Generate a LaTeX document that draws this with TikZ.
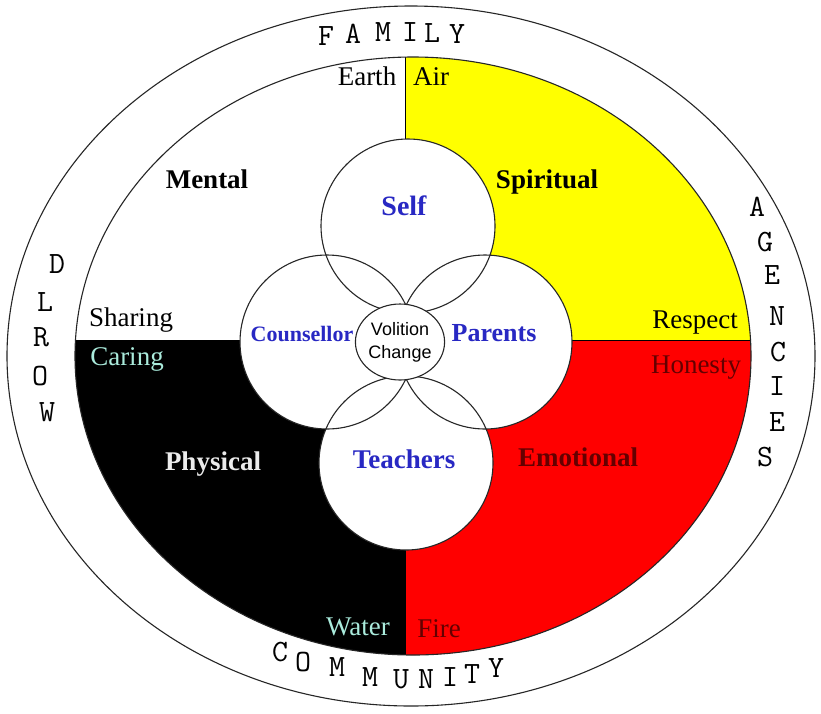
\documentclass[tikz,border=0pt]{standalone}
\usepackage{fontspec}
\setmainfont{Liberation Serif}
\newfontfamily\volfont{Liberation Sans}
\usepackage{xcolor}
\usetikzlibrary{shapes.geometric, positioning}
\definecolor{wheelyellow}{RGB}{255,255,0}
\definecolor{wheelred}{RGB}{255,0,0}
\definecolor{helperblue}{RGB}{40,40,195}
\definecolor{palecyan}{RGB}{170,235,220}
\definecolor{darkred}{RGB}{100,0,0}

\begin{document}
\begin{tikzpicture}[
    x=1pt, y=-1pt,
    rim/.style={line width=1.1pt, draw=black!85},
    ringletter/.style={font=\ttfamily\fontsize{31}{31}\selectfont, inner sep=0pt, text height=0.6em, text depth=0pt},
    word/.style={font=\fontsize{27}{30}\selectfont, inner sep=0pt, text height=0.66em, text depth=0pt},
    aspect/.style={font=\bfseries\fontsize{27}{30}\selectfont, inner sep=0pt, text height=0.66em, text depth=0pt},
    helper/.style={circle, fill=white, minimum size=174pt, inner sep=0pt},
    helpertext/.style={aspect, text=helperblue}
]
    \useasboundingbox (0,0) rectangle (821,713);
    \fill[white] (0,0) rectangle (821,713);

    \draw[rim] (411,356) ellipse [x radius=404pt, y radius=350pt];

    \begin{scope}
        \clip (413,356) ellipse [x radius=338pt, y radius=299pt];
        \fill[wheelyellow] (405,0) rectangle (821,340);
        \fill[wheelred] (405,340) rectangle (821,713);
        \fill[black] (0,340) rectangle (405,713);
        \draw[line width=1pt] (405,0) -- (405,713);
        \draw[line width=1pt] (0,340) -- (821,340);
    \end{scope}
    \draw[rim] (413,356) ellipse [x radius=338pt, y radius=299pt];

    \node (self) [helper] at (408,226) {};
    \node (counsellor) [helper] at (327,342) {};
    \node (parents) [helper] at (485,342) {};
    \node (teachers) [helper] at (406,463) {};
    \draw[rim] (self.center) circle [radius=87pt];
    \draw[rim] (counsellor.center) circle [radius=87pt];
    \draw[rim] (parents.center) circle [radius=87pt];
    \draw[rim] (teachers.center) circle [radius=87pt];

    \node (volition) [ellipse, rim, fill=white, minimum width=84pt, minimum height=76pt, inner sep=0pt, align=center, font=\volfont\fontsize{18}{23}\selectfont] at (400,342) {Volition\\Change};

    \node (selflbl) [helpertext, font=\bfseries\fontsize{28}{30}\selectfont] at (404,212) {Self};
    \node (counsellorlbl) [helpertext, font=\bfseries\fontsize{22}{26}\selectfont] at (302,338) {Counsellor};
    \node (parentslbl) [helpertext, font=\bfseries\fontsize{26}{30}\selectfont] at (494,338) {Parents};
    \node (teacherslbl) [helpertext] at (404,465) {Teachers};

    \node (mental) [aspect] at (207,185) {Mental};
    \node (spiritual) [aspect] at (547,185) {Spiritual};
    \node (physical) [aspect, text=white!92!black] at (213,467) {Physical};
    \node (emotional) [aspect, text=darkred] at (578,463) {Emotional};

    \node (earth) [word] at (367,82) {Earth};
    \node (air) [word] at (431,82) {Air};
    \node (sharing) [word] at (131,323) {Sharing};
    \node (caring) [word, text=palecyan] at (127,362) {Caring};
    \node (respect) [word] at (695,325) {Respect};
    \node (honesty) [word, text=darkred] at (696,370) {Honesty};
    \node (water) [word, text=palecyan] at (358,632) {Water};
    \node (fire) [word, text=darkred] at (439,634) {Fire};

    \node (fam1) [ringletter] at (326,42) {F};
    \node (fam2) [ringletter] at (353,40) {A};
    \node (fam3) [ringletter] at (383,38) {M};
    \node (fam4) [ringletter] at (410,38) {I};
    \node (fam5) [ringletter] at (432,39) {L};
    \node (fam6) [ringletter] at (457,40) {Y};

    \node (wor1) [ringletter] at (57,270) {D};
    \node (wor2) [ringletter] at (45,308) {L};
    \node (wor3) [ringletter] at (41,343) {R};
    \node (wor4) [ringletter] at (40,382) {O};
    \node (wor5) [ringletter] at (47,418) {W};

    \node (age1) [ringletter] at (757,213) {A};
    \node (age2) [ringletter] at (765,248) {G};
    \node (age3) [ringletter] at (772,281) {E};
    \node (age4) [ringletter] at (777,322) {N};
    \node (age5) [ringletter] at (778,358) {C};
    \node (age6) [ringletter] at (777,392) {I};
    \node (age7) [ringletter] at (777,428) {E};
    \node (age8) [ringletter] at (765,463) {S};

    \node (com1) [ringletter] at (280,658) {C};
    \node (com2) [ringletter] at (303,668) {O};
    \node (com3) [ringletter] at (337,673) {M};
    \node (com4) [ringletter] at (370,683) {M};
    \node (com5) [ringletter] at (401,685) {U};
    \node (com6) [ringletter] at (426,685) {N};
    \node (com7) [ringletter] at (450,683) {I};
    \node (com8) [ringletter] at (472,680) {T};
    \node (com9) [ringletter] at (496,674) {Y};
\end{tikzpicture}
\end{document}
